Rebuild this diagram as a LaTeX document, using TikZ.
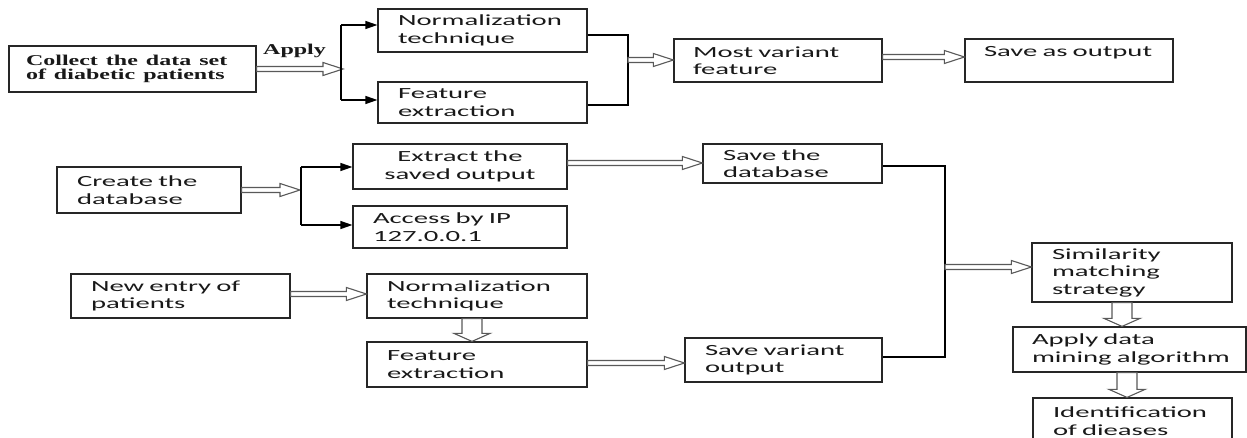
\documentclass[tikz,border=0pt]{standalone}
\usepackage{fontspec}
\usetikzlibrary{calc,arrows.meta}
\newfontfamily\sansfnt{Carlito}[FakeStretch=1.85]
\newfontfamily\seriffnt{Liberation Serif}
\newcommand\wideserif[1]{\scalebox{1.6}[1]{#1}}
\tikzset{
  box/.style={draw=black!85, line width=1.2pt, inner sep=0pt, align=left, text=black!90,
    font=\fontsize{15.5pt}{17.5pt}\sansfnt},
  conn/.style={draw=black, line width=1.2pt},
  tip/.style={conn, -{Triangle[length=12pt,width=8pt]}},
  hol/.style={draw=black!65, line width=1.1pt, fill=white, line join=miter}
}
% horizontal hollow arrow: y of start, x of end
\newcommand\harr[2]{\draw[hol] let \p1=#1, \p2=#2 in
  (\x1,\y1+2.5pt) -- (\x2-20pt,\y1+2.5pt) -- (\x2-20pt,\y1+6.5pt) -- (\x2,\y1)
  -- (\x2-20pt,\y1-6.5pt) -- (\x2-20pt,\y1-2.5pt) -- (\x1,\y1-2.5pt) -- cycle;}
% vertical hollow arrow (downwards): x of start, y of end
\newcommand\varr[2]{\draw[hol] let \p1=#1, \p2=#2 in
  (\x1-10pt,\y1) -- (\x1-10pt,\y2+8pt) -- (\x1-18pt,\y2+8pt) -- (\x1,\y2)
  -- (\x1+18pt,\y2+8pt) -- (\x1+10pt,\y2+8pt) -- (\x1+10pt,\y1) -- cycle;}
\begin{document}
\begin{tikzpicture}[x=1pt,y=1pt]
\useasboundingbox (0,0) rectangle (1247,437);

% row 1
\node[box, minimum width=247pt, minimum height=46pt, text width=213pt, align=left,
  font=\fontsize{15pt}{13.5pt}\seriffnt\bfseries] (collect) at (132.5,368)
  {\wideserif{Collect the data set}\\\wideserif{of diabetic patients}};
\node[inner sep=0pt, anchor=base west, text=black!90,
  font=\fontsize{15pt}{15pt}\seriffnt\bfseries] (applylbl) at (263,382) {\wideserif{Apply}};
\node[box, minimum width=209pt, minimum height=43pt, text width=169pt] (norm1) at (482.5,406.5)
  {Normalization\\technique};
\node[box, minimum width=209pt, minimum height=41pt, text width=169pt] (feat1) at (482.5,334.5)
  {Feature\\extraction};
\node[box, minimum width=208pt, minimum height=43pt, text width=170pt] (mostvar) at (778,376.5)
  {Most variant\\feature};
\node[box, minimum width=208pt, minimum height=43pt, text width=170pt] (saveout) at (1069,376.5)
  {Save as output\\\mbox{}};

% row 2
\node[box, minimum width=184pt, minimum height=46pt, text width=144pt] (create) at (149,247)
  {Create the\\database};
\node[box, minimum width=214pt, minimum height=45pt, text width=174pt, align=center] (extract) at (460,270.5)
  {Extract the\\saved output};
\node[box, minimum width=214pt, minimum height=42pt, text width=174pt] (access) at (460,210)
  {Access by IP\\127.0.0.1};
\node[box, minimum width=179pt, minimum height=39pt, text width=139pt] (savedb) at (792.5,273.5)
  {Save the\\database};

% row 3
\node[box, minimum width=219pt, minimum height=44pt, text width=179pt] (newentry) at (180.5,141)
  {New entry of\\patients};
\node[box, minimum width=220pt, minimum height=44pt, text width=180pt] (norm2) at (477,141)
  {Normalization\\technique};
\node[box, minimum width=220pt, minimum height=45pt, text width=180pt] (feat2) at (477,72.5)
  {Feature\\extraction};
\node[box, minimum width=197pt, minimum height=44pt, text width=157pt] (savevar) at (783.5,77)
  {Save variant\\output};

% right column
\node[box, minimum width=200pt, minimum height=59pt, text width=160pt] (sim) at (1132,164.5)
  {Similarity\\matching\\strategy};
\node[box, minimum width=233pt, minimum height=45pt, text width=195pt] (applydm) at (1129.5,87.5)
  {Apply data\\\mbox{mining algorithm}};
\node[box, minimum width=199pt, minimum height=46pt, text width=159pt] (ident) at (1132.5,16)
  {Identification\\of dieases};

% coordinates of junctions
\coordinate (b1) at (343,368);
\coordinate (b1top) at (341,412);
\coordinate (b1bot) at (341,337);
\coordinate (m1) at (628,377);
\coordinate (b2) at (300,248);
\coordinate (b2top) at (301,270);
\coordinate (b2bot) at (301,212);
\coordinate (j) at (945,170);

% row 1 connectors
\harr{(collect.east)}{(b1)}
\draw[conn] (b1top) -- (b1bot);
\draw[tip] (b1top) -- (b1top -| norm1.west);
\draw[tip] (b1bot) -- (b1bot -| feat1.west);
\draw[conn] ([yshift=-4.5pt]norm1.east) -| (m1) |- ([yshift=-2.5pt]feat1.east);
\harr{(m1)}{(mostvar.west)}
\harr{([yshift=3.5pt]mostvar.east)}{(saveout.west)}

% row 2 connectors
\harr{(create.east)}{(b2)}
\draw[conn] (b2top) -- (b2bot);
\draw[tip] (b2top) -- (b2top -| extract.west);
\draw[tip] (b2bot) -- (b2bot -| access.west);
\harr{([yshift=3.5pt]extract.east)}{(savedb.west)}
\draw[conn] ([yshift=-2.5pt]savedb.east) -| (j) |- ([yshift=3pt]savevar.east);
\harr{(j)}{(sim.west)}

% row 3 connectors
\harr{([yshift=2pt]newentry.east)}{(norm2.west)}
\varr{([xshift=-5pt]norm2.south)}{(feat2.north)}
\harr{([yshift=1.5pt]feat2.east)}{(savevar.west)}

% right column connectors
\varr{([xshift=-10pt]sim.south)}{(applydm.north)}
\varr{([xshift=-2.5pt]applydm.south)}{(ident.north)}
\end{tikzpicture}
\end{document}
